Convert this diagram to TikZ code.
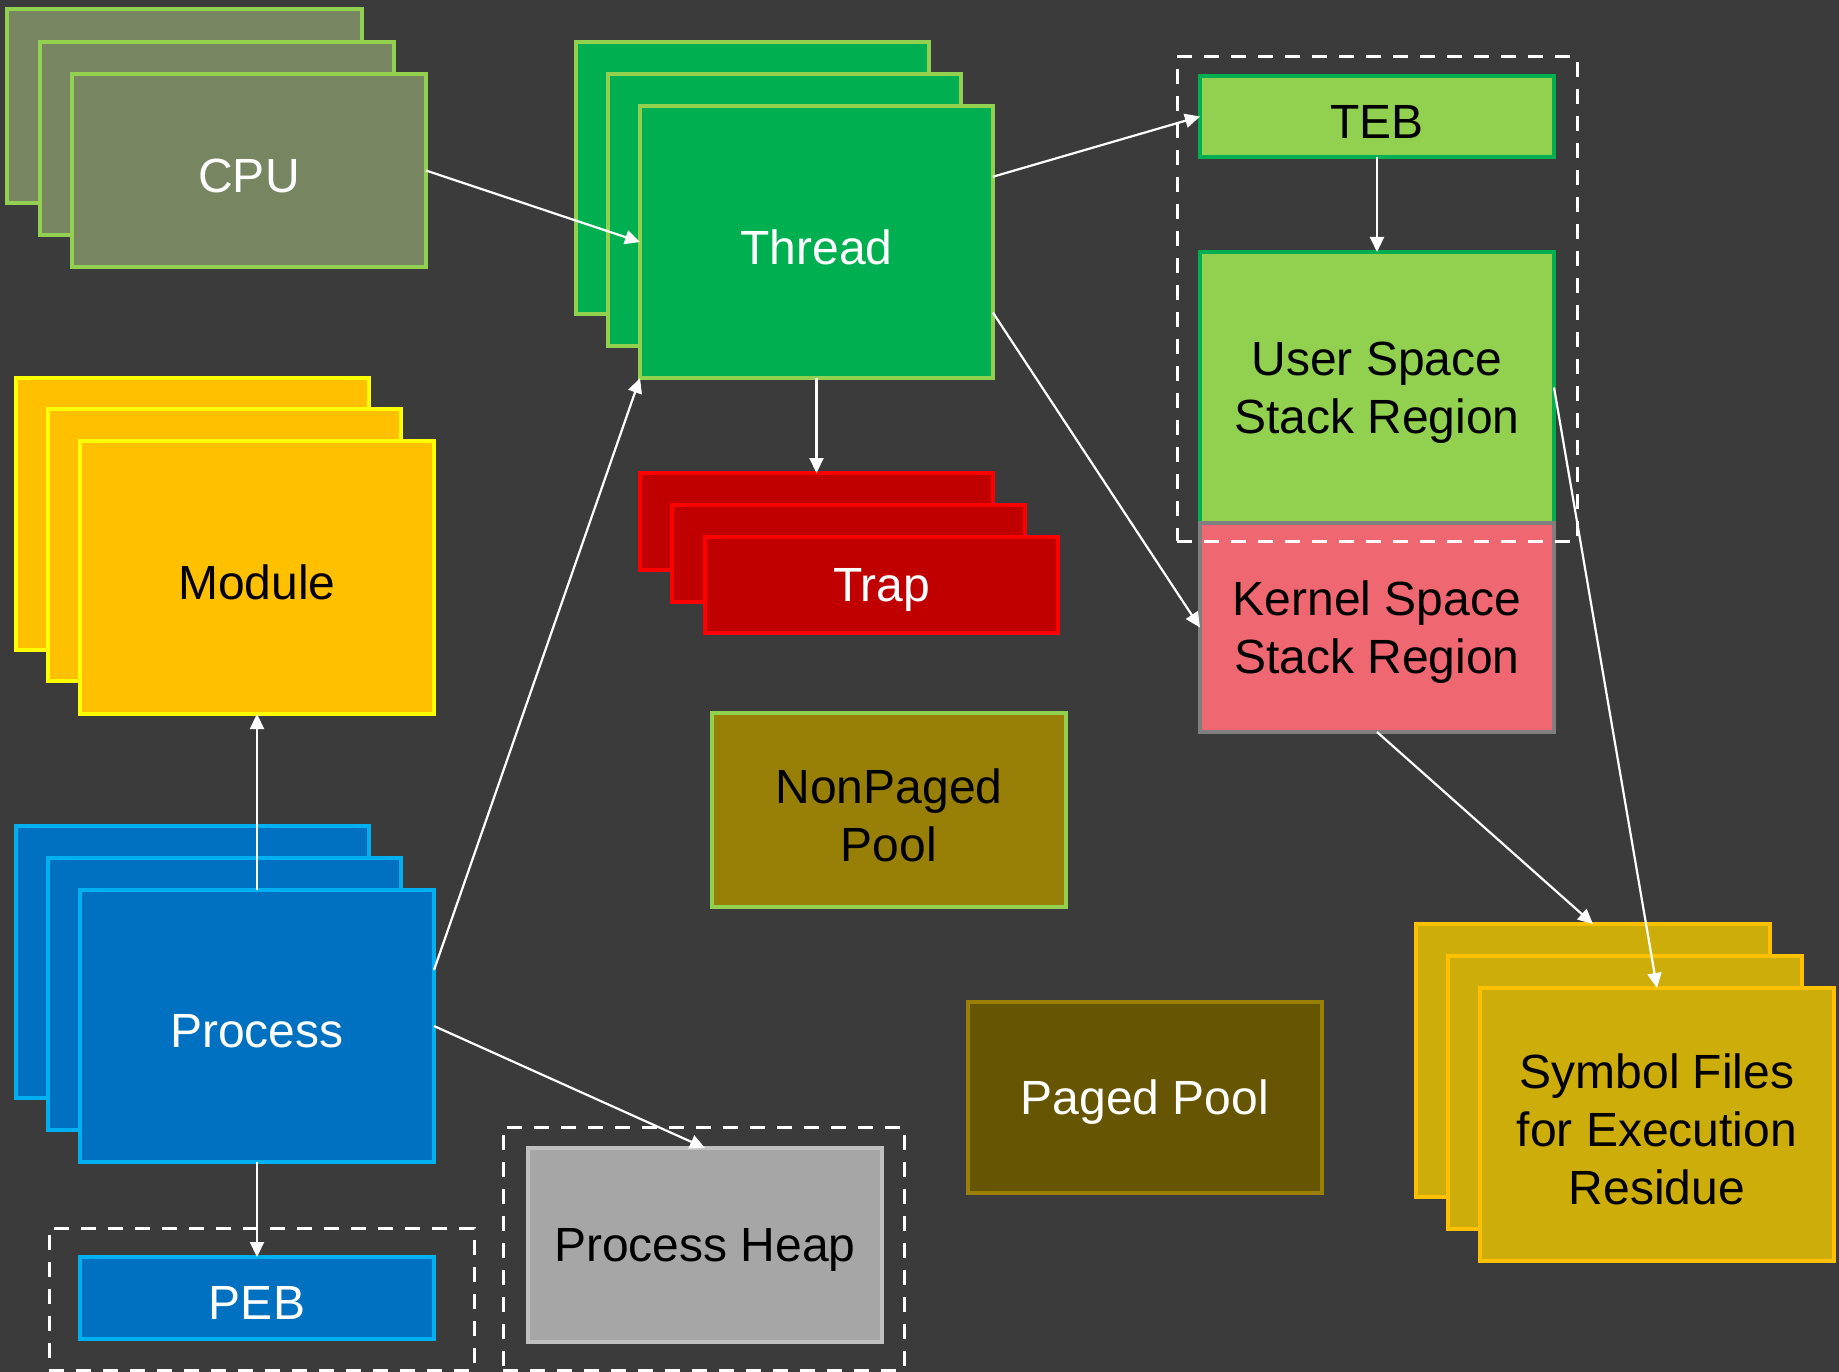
\documentclass[tikz,border=0pt]{standalone}
\usepackage{fontspec}
\setmainfont{Liberation Sans}
\usetikzlibrary{arrows.meta,calc}
\definecolor{bg}{HTML}{3B3B3B}
\definecolor{cpuF}{HTML}{778560}
\definecolor{lgreen}{HTML}{92D050}
\definecolor{dgreen}{HTML}{00B050}
\definecolor{modF}{HTML}{FFC000}
\definecolor{modD}{HTML}{FFFF00}
\definecolor{procF}{HTML}{0070C0}
\definecolor{procD}{HTML}{00B0F0}
\definecolor{trapF}{HTML}{C00000}
\definecolor{trapD}{HTML}{FF0000}
\definecolor{npF}{HTML}{988008}
\definecolor{pF}{HTML}{665503}
\definecolor{pD}{HTML}{998004}
\definecolor{symF}{HTML}{CCAD0A}
\definecolor{heapF}{HTML}{A6A6A6}
\definecolor{heapD}{HTML}{BFBFBF}
\definecolor{kernF}{HTML}{EF6770}
\definecolor{kernD}{HTML}{7F7F7F}
\newcommand\bx[7]{\node[#6, minimum width={#4-#2}, minimum height={#5-#3}] (#1) at ({(#2+#4)/2},{(#3+#5)/2}) {};
  \node[#6, draw=none, fill=none] (#1-t) at ([yshift=-5pt]#1.center) {#7};}
\tikzset{
  base/.style={draw, line width=3.5pt, inner sep=0pt, outer sep=0pt, align=center, font=\fontsize{48}{58}\selectfont},
  cpubox/.style={base, fill=cpuF, draw=lgreen, text=white},
  thrbox/.style={base, fill=dgreen, draw=lgreen, text=white},
  tebbox/.style={base, fill=lgreen, draw=dgreen, text=black},
  kernbox/.style={base, fill=kernF, draw=kernD, text=black},
  modbox/.style={base, fill=modF, draw=modD, text=black},
  procbox/.style={base, fill=procF, draw=procD, text=white},
  trapbox/.style={base, fill=trapF, draw=trapD, text=white},
  npbox/.style={base, fill=npF, draw=lgreen, text=black},
  pbox/.style={base, fill=pF, draw=pD, text=white},
  symbox/.style={base, fill=symF, draw=modF, text=black},
  heapbox/.style={base, fill=heapF, draw=heapD, text=black},
  dashbox/.style={draw=white, line width=3pt, dash pattern=on 15pt off 12pt, inner sep=0pt, outer sep=0pt},
  conn/.style={draw=white, line width=2.2pt, -{Triangle[length=15pt,width=14pt]}}
}
\begin{document}
\begin{tikzpicture}[x=1pt,y=-1pt]
\fill[bg] (0,0) rectangle (1839,1372);
\useasboundingbox (0,0) rectangle (1839,1372);
% CPU
\bx{cpu3}{7}{9}{362}{203}{cpubox}{}
\bx{cpu2}{40}{42}{394}{235}{cpubox}{}
\bx{cpu}{72}{74}{426}{267}{cpubox}{CPU}
% Thread
\bx{thr3}{576}{42}{929}{314}{thrbox}{}
\bx{thr2}{608}{74}{961}{346}{thrbox}{}
\bx{thr}{640}{106}{993}{378}{thrbox}{Thread}
% TEB / stacks
\bx{teb}{1200}{76}{1554}{157}{tebbox}{TEB}
\bx{user}{1200}{252}{1554}{523}{tebbox}{User Space\\Stack Region}
\bx{kern}{1200}{523}{1554}{732}{kernbox}{Kernel Space\\Stack Region}
% Module
\bx{mod3}{16}{378}{369}{650}{modbox}{}
\bx{mod2}{48}{409}{401}{681}{modbox}{}
\bx{mod}{80}{441}{434}{714}{modbox}{Module}
% Process
\bx{proc3}{16}{826}{369}{1098}{procbox}{}
\bx{proc2}{48}{858}{401}{1130}{procbox}{}
\bx{proc}{80}{890}{434}{1162}{procbox}{Process}
\bx{peb}{80}{1257}{434}{1339}{procbox}{PEB}
% Trap
\bx{trap3}{640}{473}{993}{570}{trapbox}{}
\bx{trap2}{672}{505}{1025}{602}{trapbox}{}
\bx{trap}{705}{537}{1058}{633}{trapbox}{Trap}
% Pools
\bx{np}{712}{713}{1066}{907}{npbox}{NonPaged\\Pool}
\bx{pp}{968}{1002}{1322}{1193}{pbox}{Paged Pool}
% Symbols
\bx{sym3}{1416}{924}{1770}{1197}{symbox}{}
\bx{sym2}{1448}{956}{1802}{1229}{symbox}{}
\bx{sym}{1480}{988}{1834}{1261}{symbox}{Symbol Files\\for Execution\\Residue}
% Heap
\bx{heap}{528}{1148}{882}{1342}{heapbox}{Process Heap}
% dashed groups
\node[dashbox, minimum width=400, minimum height=484] (tebgrp) at (1377,299) {};
\node[dashbox, minimum width=425, minimum height=142] (pebgrp) at (261.5,1299) {};
\node[dashbox, minimum width=401, minimum height=243] (heapgrp) at (703.5,1248.5) {};
% connectors
\draw[conn] (cpu.east) -- (thr.west);
\draw[conn] ($(thr.north east)!0.26!(thr.south east)$) -- (teb.west);
\draw[conn] ($(thr.north east)!0.76!(thr.south east)$) -- (kern.west);
\draw[conn] (thr.south) -- (trap3.north);
\draw[conn] (teb.south) -- (user.north);
\draw[conn] (user.east) -- (sym.north);
\draw[conn] (kern.south) -- (sym3.north);
\draw[conn] (proc.north) -- (mod.south);
\draw[conn] ($(proc.north east)!0.294!(proc.south east)$) -- (thr.south west);
\draw[conn] (proc.east) -- (heap.north);
\draw[conn] (proc.south) -- (peb.north);
\end{tikzpicture}
\end{document}
